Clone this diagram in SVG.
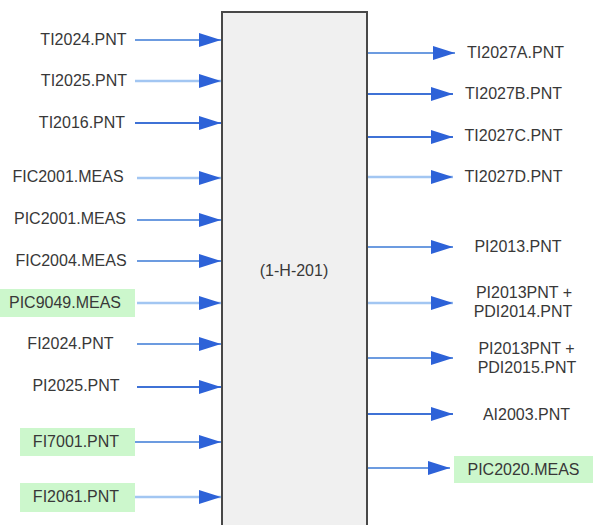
<svg xmlns="http://www.w3.org/2000/svg" width="593" height="525" viewBox="0 0 593 525">
<defs>
<style>
text{font-family:"Liberation Sans",Arial,sans-serif;font-size:16px;fill:#383838;text-anchor:middle;dominant-baseline:central}
.d{stroke:#3f72d6;stroke-width:2;fill:none}
.m{stroke:#6c9be0;stroke-width:2;fill:none}
.l{stroke:#a2c6f2;stroke-width:2.5;fill:none}
.hl{fill:#ccf7cc}
</style>
<marker id="ah" viewBox="0 0 22 14" refX="22" refY="7" markerWidth="22" markerHeight="14" markerUnits="userSpaceOnUse" orient="auto">
<path d="M0,0 L22,7 L0,14 Z" fill="#2d62d8"/>
</marker>
</defs>
<rect x="0" y="0" width="593" height="525" fill="#fff"/>
<g id="block">
<rect x="222" y="12" width="145" height="530" fill="#f0f0f0" stroke="#484848" stroke-width="2"/>
<text x="294" y="270" font-size="17.5">(1-H-201)</text>
</g>
<g id="connectors">
<line class="m" x1="135" y1="40" x2="221" y2="40" marker-end="url(#ah)"/>
<line class="l" x1="135" y1="81" x2="221" y2="81" marker-end="url(#ah)"/>
<line class="d" x1="135" y1="123" x2="221" y2="123" marker-end="url(#ah)"/>
<line class="l" x1="137" y1="178" x2="221" y2="178" marker-end="url(#ah)"/>
<line class="m" x1="137" y1="220" x2="221" y2="220" marker-end="url(#ah)"/>
<line class="m" x1="137" y1="261" x2="221" y2="261" marker-end="url(#ah)"/>
<line class="l" x1="137" y1="303" x2="221" y2="303" marker-end="url(#ah)"/>
<line class="m" x1="137" y1="344" x2="221" y2="344" marker-end="url(#ah)"/>
<line class="d" x1="137" y1="387" x2="221" y2="387" marker-end="url(#ah)"/>
<line class="m" x1="135" y1="442" x2="221" y2="442" marker-end="url(#ah)"/>
<line class="l" x1="135" y1="497" x2="221" y2="497" marker-end="url(#ah)"/>
<line class="m" x1="368" y1="53" x2="455" y2="53" marker-end="url(#ah)"/>
<line class="d" x1="368" y1="94" x2="453" y2="94" marker-end="url(#ah)"/>
<line class="d" x1="368" y1="137" x2="453" y2="137" marker-end="url(#ah)"/>
<line class="l" x1="368" y1="177" x2="453" y2="177" marker-end="url(#ah)"/>
<line class="m" x1="368" y1="247" x2="453" y2="247" marker-end="url(#ah)"/>
<line class="l" x1="368" y1="303" x2="453" y2="303" marker-end="url(#ah)"/>
<line class="m" x1="368" y1="358" x2="453" y2="358" marker-end="url(#ah)"/>
<line class="d" x1="368" y1="414" x2="453" y2="414" marker-end="url(#ah)"/>
<line class="m" x1="368" y1="468" x2="450" y2="468" marker-end="url(#ah)"/>
</g>
<g id="in-TI2024"><text x="83.5" y="39">TI2024.PNT</text></g>
<g id="in-TI2025"><text x="84" y="80">TI2025.PNT</text></g>
<g id="in-TI2016"><text x="82" y="122">TI2016.PNT</text></g>
<g id="in-FIC2001"><text x="68" y="176">FIC2001.MEAS</text></g>
<g id="in-PIC2001"><text x="70" y="218">PIC2001.MEAS</text></g>
<g id="in-FIC2004"><text x="71" y="260">FIC2004.MEAS</text></g>
<g id="in-PIC9049"><rect class="hl" x="0" y="289" width="135" height="28"/><text x="65" y="302">PIC9049.MEAS</text></g>
<g id="in-FI2024"><text x="70.5" y="343">FI2024.PNT</text></g>
<g id="in-PI2025"><text x="76" y="385">PI2025.PNT</text></g>
<g id="in-FI7001"><rect class="hl" x="20" y="428" width="115" height="28"/><text x="76" y="441">FI7001.PNT</text></g>
<g id="in-FI2061"><rect class="hl" x="20" y="483" width="115" height="29"/><text x="76" y="496">FI2061.PNT</text></g>
<g id="out-TI2027A"><text x="515.5" y="52">TI2027A.PNT</text></g>
<g id="out-TI2027B"><text x="513.5" y="93">TI2027B.PNT</text></g>
<g id="out-TI2027C"><text x="513.5" y="135">TI2027C.PNT</text></g>
<g id="out-TI2027D"><text x="513.5" y="176">TI2027D.PNT</text></g>
<g id="out-PI2013"><text x="518" y="246">PI2013.PNT</text></g>
<g id="out-PDI2014"><text x="524" y="292">PI2013PNT +</text><text x="523" y="311">PDI2014.PNT</text></g>
<g id="out-PDI2015"><text x="526.5" y="348">PI2013PNT +</text><text x="527" y="367">PDI2015.PNT</text></g>
<g id="out-AI2003"><text x="526.5" y="414">AI2003.PNT</text></g>
<g id="out-PIC2020"><rect class="hl" x="454" y="456" width="139" height="27"/><text x="523.5" y="469">PIC2020.MEAS</text></g>
</svg>
